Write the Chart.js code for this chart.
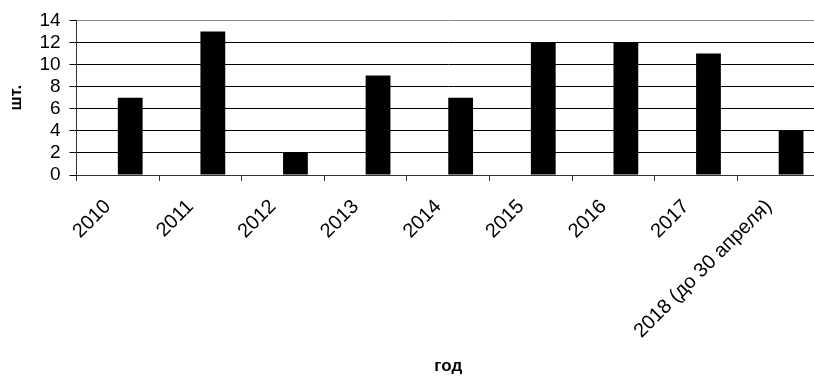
<!DOCTYPE html>
<html lang="ru">
<head>
  <meta charset="UTF-8">
  <title>Количество по годам</title>
  <script src="https://cdn.jsdelivr.net/npm/chart.js"></script>
  <style>
    html, body {
      margin: 0;
      padding: 0;
      overflow: hidden;
      background: #fff;
    }
    #wrap {
      width: 822px;
      height: 377px;
    }
  </style>
</head>
<body>
<div id="wrap"><canvas id="chart"></canvas></div>

<script>
const years = ['2010', '2011', '2012', '2013', '2014', '2015', '2016', '2017', '2018 (до 30 апреля)'];
const counts = [7, 13, 2, 9, 7, 12, 12, 11, 4];
// empty series from the original sheet, it only takes space on the left of each bar
const emptySeries = [null, null, null, null, null, null, null, null, null];
const yMax = 14;
const yStep = 2;

const font = 'Liberation Sans, Arial, sans-serif';

new Chart(document.getElementById('chart'), {
  type: 'bar',
  data: {
    labels: years,
    datasets: [
      { label: '', data: emptySeries, backgroundColor: '#fff' },
      { label: 'шт.', data: counts, backgroundColor: '#000' }
    ]
  },
  options: {
    responsive: true,
    maintainAspectRatio: false,
    animation: false,
    categoryPercentage: 0.6,
    barPercentage: 1,
    layout: { padding: { left: 2, right: 2, top: 0, bottom: 0 } },
    plugins: { legend: { display: false }, tooltip: { enabled: false } },
    scales: {
      x: {
        // chart.js reserves too much room for the rotated labels
        afterFit: scale => { scale.height = 202; },
        grid: {
          display: true,
          drawOnChartArea: false,
          drawTicks: true,
          tickLength: 6,
          offset: true,
          color: '#333'
        },
        border: { color: '#333' },
        ticks: {
          color: '#000',
          font: { family: font, size: 20 },
          minRotation: 45,
          maxRotation: 45,
          autoSkip: false,
          labelOffset: -10,
          padding: 14
        },
        title: {
          display: true,
          text: 'год',
          color: '#000',
          font: { family: font, size: 17, weight: 'bold' },
          padding: { top: 0, bottom: 0 }
        }
      },
      y: {
        min: 0,
        max: yMax,
        grid: {
          color: ctx => ctx.tick && ctx.tick.value === yMax ? '#888' : '#000',
          tickColor: '#000',
          tickLength: 7
        },
        border: { color: '#333' },
        ticks: {
          stepSize: yStep,
          autoSkip: false,
          color: '#000',
          font: { family: font, size: 19 },
          padding: 9
        },
        title: {
          display: true,
          text: 'шт.',
          color: '#000',
          font: { family: font, size: 17, weight: 'bold' }
        }
      }
    }
  }
});
</script>
</body>
</html>
